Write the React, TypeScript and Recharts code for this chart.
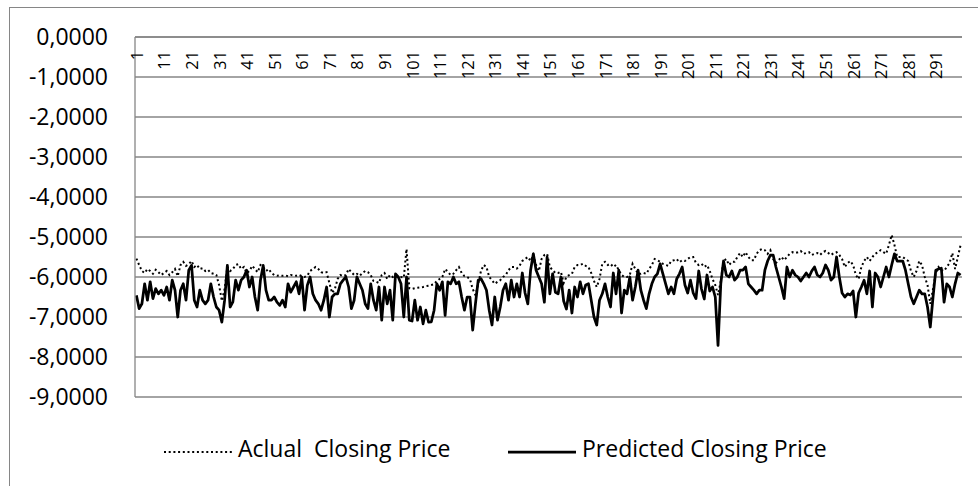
import React from 'react';
import { LineChart, Line, XAxis, YAxis, CartesianGrid } from 'recharts';

const categories: string[] = Array.from({ length: 300 }, (_, i) => String(i + 1));
const seriesNames = ['Aclual  Closing Price', 'Predicted Closing Price'];
const yTicks = [0, -1, -2, -3, -4, -5, -6, -7, -8, -9];

const actual: number[] = [
  -5.54, -5.7, -5.85, -5.9, -5.8, -5.85, -5.92, -5.82, -5.88, -5.95,
  -5.9, -5.85, -5.95, -5.88, -5.8, -5.98, -5.7, -5.62, -5.72, -5.68,
  -5.6, -5.75, -5.7, -5.8, -5.78, -5.85, -5.82, -5.9, -5.92, -5.95,
  -6.2, -6.6, -6.3, -5.75, -5.85, -5.8, -5.7, -5.68, -5.8, -5.75,
  -5.9, -5.85, -5.72, -5.8, -5.88, -5.7, -5.75, -5.85, -5.8, -5.9,
  -5.95, -5.97, -5.96, -5.97, -5.96, -5.98, -5.95, -5.96, -5.97, -5.95,
  -5.98, -6.0, -5.97, -5.85, -5.8, -5.75, -5.8, -5.88, -5.9, -5.88,
  -6.15, -6.4, -6.3, -6.05, -5.95, -5.98, -5.95, -5.8, -5.88, -5.95,
  -5.92, -5.97, -5.9, -5.85, -5.88, -5.95, -6.1, -6.12, -6.15, -5.95,
  -5.9, -6.05, -5.95, -6.0, -5.97, -6.0, -6.0, -6.02, -5.3, -6.28,
  -6.3, -6.28, -6.27, -6.26, -6.25, -6.23, -6.22, -6.2, -6.18, -6.1,
  -6.05, -6.0, -5.8, -5.87, -5.95, -5.92, -5.83, -5.75, -5.9, -5.98,
  -6.0, -6.05, -6.3, -6.45, -6.17, -5.85, -5.7, -5.75, -6.0, -6.08,
  -6.17, -6.12, -6.08, -6.0, -5.95, -5.83, -5.75, -5.75, -5.79, -5.72,
  -5.6, -5.55, -5.5, -5.6, -5.45, -5.7, -5.85, -5.55, -5.45, -5.42,
  -5.75, -5.83, -5.9, -5.9, -5.87, -6.15, -6.0, -5.95, -5.92, -5.75,
  -5.7, -5.7, -5.67, -5.72, -5.75, -5.9, -6.1, -6.25, -6.05, -5.67,
  -5.62, -5.7, -5.67, -5.75, -5.7, -5.83, -5.95, -6.0, -6.0, -5.95,
  -5.67, -5.8, -5.92, -5.92, -5.9, -5.92, -5.8, -5.7, -5.55, -5.58,
  -5.62, -5.67, -5.7, -5.72, -5.6, -5.58, -5.55, -5.63, -5.58, -5.6,
  -5.55, -5.5, -5.5, -5.65, -5.7, -5.67, -5.75, -5.7, -5.85, -6.05,
  -6.2, -6.45, -6.1, -5.6, -5.55, -5.7, -5.62, -5.62, -5.5, -5.4,
  -5.5, -5.38, -5.5, -5.58, -5.58, -5.42, -5.33, -5.3, -5.33, -5.42,
  -5.33, -5.55, -5.65, -5.58, -5.5, -5.58, -5.5, -5.42, -5.38, -5.4,
  -5.38, -5.35, -5.42, -5.4, -5.38, -5.45, -5.42, -5.4, -5.45, -5.38,
  -5.35, -5.4, -5.45, -5.4, -5.38, -5.45, -5.55, -5.75, -5.65, -5.6,
  -5.7, -5.95, -6.05, -5.75, -5.6, -5.5, -5.6, -5.5, -5.42, -5.38,
  -5.33, -5.38, -5.42, -5.2, -4.95, -5.2, -5.5, -5.5, -5.5, -5.55,
  -5.6, -5.85, -6.0, -5.85, -5.6, -5.7, -6.0, -6.2, -6.67, -6.3,
  -5.9, -5.75, -5.83, -5.85, -5.75, -5.65, -5.4, -5.8, -5.5, -5.2,
];

const predicted: number[] = [
  -6.46, -6.79, -6.67, -6.17, -6.58, -6.12, -6.54, -6.29, -6.42, -6.33,
  -6.46, -6.25, -6.58, -6.08, -6.33, -7.0, -6.33, -6.17, -6.58, -5.83,
  -5.71, -6.58, -6.75, -6.33, -6.58, -6.67, -6.58, -6.17, -6.5, -6.75,
  -6.83, -7.13, -6.58, -5.71, -6.75, -6.62, -6.08, -6.33, -6.08, -6.0,
  -5.83, -6.25, -6.0, -6.5, -6.83, -6.08, -5.71, -6.33, -6.58, -6.58,
  -6.5, -6.63, -6.71, -6.58, -6.75, -6.17, -6.38, -6.25, -6.12, -6.42,
  -6.0, -6.83, -6.21, -6.0, -6.42, -6.58, -6.67, -6.83, -6.58, -6.25,
  -7.0, -6.5, -6.42, -6.42, -6.17, -6.08, -6.0, -6.25, -6.79, -6.58,
  -6.0, -6.17, -6.33, -6.67, -6.79, -6.17, -6.58, -6.83, -6.25, -7.08,
  -6.25, -6.67, -6.33, -7.08, -5.92, -6.0, -6.17, -7.0, -6.0, -7.08,
  -7.1, -6.58, -7.08, -6.75, -7.17, -6.83, -7.13, -7.12, -6.83, -6.17,
  -6.33, -6.12, -6.96, -6.12, -6.17, -6.0, -6.17, -6.12, -6.5, -6.83,
  -6.5, -6.5, -7.33, -6.67, -6.08, -6.04, -6.17, -6.33, -6.83, -7.2,
  -6.5, -7.08, -6.75, -6.33, -6.17, -6.58, -6.08, -6.5, -6.17, -6.5,
  -5.9, -6.4, -6.67, -5.83, -5.42, -5.83, -6.0, -6.17, -6.63, -5.5,
  -6.42, -5.92, -6.38, -6.42, -6.0, -6.6, -6.8, -6.33, -6.9, -6.25,
  -6.5, -6.12, -6.42, -6.2, -6.17, -6.58, -7.0, -7.2, -6.58, -6.42,
  -6.17, -6.5, -6.75, -5.9, -6.42, -5.83, -6.9, -6.33, -6.42, -6.0,
  -6.58, -6.25, -5.83, -6.33, -6.58, -6.79, -6.42, -6.17, -6.0, -5.92,
  -5.67, -5.92, -6.17, -6.42, -6.25, -6.42, -6.05, -5.92, -5.75, -6.2,
  -6.4, -6.08, -6.4, -6.54, -5.85, -6.3, -6.55, -5.95, -6.35, -6.25,
  -6.5, -7.71, -6.17, -5.6, -5.95, -6.0, -5.85, -6.08, -6.0, -5.83,
  -5.83, -5.75, -6.17, -6.25, -6.33, -6.42, -6.33, -6.33, -5.83, -5.6,
  -5.45, -5.45, -5.75, -6.0, -6.25, -6.54, -5.75, -6.0, -5.83, -5.95,
  -6.0, -6.1, -6.0, -5.9, -6.0, -5.85, -5.75, -5.95, -6.0, -5.9,
  -5.7, -5.83, -6.08, -6.0, -5.5, -6.0, -6.4, -6.5, -6.42, -6.45,
  -6.35, -7.0, -6.4, -6.25, -6.08, -6.42, -5.85, -6.75, -5.9, -6.0,
  -6.25, -6.0, -5.75, -6.0, -5.7, -5.42, -5.6, -5.6, -5.6, -5.83,
  -6.17, -6.5, -6.67, -6.5, -6.33, -6.42, -6.42, -6.75, -7.25, -6.5,
  -5.83, -5.8, -5.78, -6.63, -6.17, -6.25, -6.5, -6.17, -5.9, -5.95,
];

const data = categories.map((c, i) => ({ cat: c, actual: actual[i], predicted: predicted[i] }));

const FONT = '"Open Sans", "Noto Sans", sans-serif';
const GRID = '#868686';

const fmt = (v: number) => v.toFixed(4).replace('.', ',').replace(/^-0,0000$/, '0,0000');

const XTick = (props: any) => {
  const { x, y, payload } = props;
  const ay = y + 14;
  return (
    <text
      x={x}
      y={ay}
      dy={6.5}
      transform={`rotate(-90, ${x}, ${ay})`}
      textAnchor="end"
      fontFamily={FONT}
      fontSize={16.3}
      fill="#000"
    >
      {payload.value}
    </text>
  );
};

const legendStyles = [
  { stroke: '#000', strokeWidth: 2, dash: '2 2.7' },
  { stroke: '#000', strokeWidth: 2.75, dash: undefined as string | undefined },
];
const legendLeft = [164, 508];

export default function App() {
  return (
    <div
      style={{
        position: 'absolute',
        left: 0,
        top: 0,
        width: 978,
        height: 486,
        overflow: 'hidden',
        background: '#fff',
      }}
    >
      <div
        style={{
          position: 'absolute',
          left: 9,
          top: 7,
          width: 1100,
          height: 1100,
          borderLeft: `1px solid ${GRID}`,
          borderTop: `1px solid ${GRID}`,
        }}
      />
      <div style={{ position: 'absolute', left: 0, top: 0 }}>
        <LineChart
          width={978}
          height={486}
          data={data}
          margin={{ top: 7, right: 16, bottom: 89, left: 0 }}
        >
          <CartesianGrid horizontal vertical={false} stroke={GRID} strokeWidth={1.3} />
          <XAxis
            dataKey="cat"
            orientation="top"
            height={30}
            interval={9}
            tickLine={false}
            tickSize={0}
            tickMargin={0}
            axisLine={{ stroke: GRID, strokeWidth: 1.3 }}
            tick={<XTick />}
            padding={{ left: 1.4, right: 1.4 }}
          />
          <YAxis
            type="number"
            domain={[-9, 0]}
            ticks={yTicks}
            interval={0}
            width={135}
            tickLine={false}
            tickSize={0}
            tickMargin={27}
            tickFormatter={fmt}
            axisLine={{ stroke: GRID, strokeWidth: 1.3 }}
            tick={{ fontFamily: FONT, fontSize: 23, fill: '#000' }}
          />
          <Line
            type="linear"
            dataKey="actual"
            name={seriesNames[0]}
            stroke="#000"
            strokeWidth={2}
            strokeDasharray="2 2.7"
            dot={false}
            activeDot={false}
            isAnimationActive={false}
          />
          <Line
            type="linear"
            dataKey="predicted"
            name={seriesNames[1]}
            stroke="#000"
            strokeWidth={2.75}
            strokeLinejoin="round"
            dot={false}
            activeDot={false}
            isAnimationActive={false}
          />
        </LineChart>
      </div>
      <svg
        width={978}
        height={60}
        style={{ position: 'absolute', left: 0, top: 420 }}
      >
        {seriesNames.map((name, i) => (
          <g key={name}>
            <line
              x1={legendLeft[i]}
              x2={legendLeft[i] + 68}
              y1={32}
              y2={32}
              stroke={legendStyles[i].stroke}
              strokeWidth={legendStyles[i].strokeWidth}
              strokeDasharray={legendStyles[i].dash}
            />
            <text
              x={legendLeft[i] + 74}
              y={37}
              fontFamily={FONT}
              fontSize={23}
              fill="#000"
              xmlSpace="preserve"
              style={{ whiteSpace: 'pre' }}
            >
              {name}
            </text>
          </g>
        ))}
      </svg>
    </div>
  );
}
